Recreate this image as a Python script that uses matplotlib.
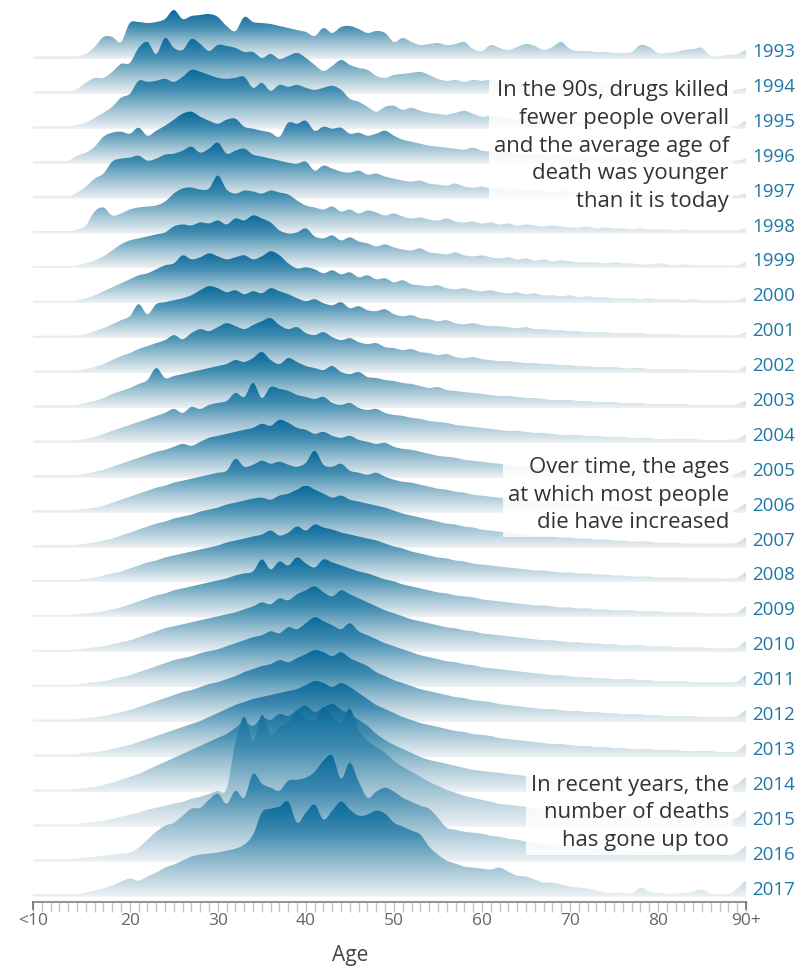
import numpy as np
import matplotlib.pyplot as plt
from matplotlib.colors import LinearSegmentedColormap
from matplotlib.patches import Polygon

plt.rcParams['font.family'] = ['Open Sans', 'DejaVu Sans']

# age 9 stands for "<10" and age 90 for "90+"
ages = np.arange(9, 91)
years = list(range(1993, 2018))
tick_ages = [9, 20, 30, 40, 50, 60, 70, 80, 90]
tick_labels = ['<10', '20', '30', '40', '50', '60', '70', '80', '90+']

# deaths by single year of age, one list per year (ages 9..90)
deaths_1993 = [2, 1, 0, 1, 2, 3, 5, 12, 22, 22,
               17, 36, 37, 36, 37, 40, 49, 40, 43, 44,
               45, 42, 33, 28, 42, 37, 36, 35, 33, 31,
               29, 27, 23, 31, 26, 32, 33, 30, 26, 28,
               26, 17, 21, 17, 14, 15, 16, 14, 15, 17,
               10, 8, 14, 11, 9, 12, 15, 13, 9, 12,
               17, 10, 8, 8, 7, 7, 6, 6, 7, 14,
               12, 6, 6, 7, 9, 10, 11, 3, 3, 4,
               5, 9]
deaths_1994 = [2, 1, 1, 1, 2, 5, 11, 16, 16, 22,
               30, 31, 46, 52, 40, 56, 46, 44, 55, 50,
               43, 49, 48, 46, 42, 42, 36, 40, 35, 38,
               41, 36, 29, 23, 28, 34, 29, 26, 24, 18,
               16, 19, 20, 21, 22, 19, 15, 13, 14, 12,
               14, 13, 14, 11, 10, 12, 10, 9, 8, 10,
               9, 8, 7, 8, 9, 7, 6, 7, 6, 5,
               6, 7, 5, 5, 6, 4, 5, 4, 4, 3,
               4, 6]
deaths_1995 = [2, 1, 1, 1, 2, 4, 6, 11, 16, 22,
               31, 35, 48, 47, 48, 50, 47, 52, 59, 57,
               54, 51, 50, 51, 52, 41, 46, 38, 44, 42,
               44, 41, 39, 41, 43, 39, 30, 27, 22, 17,
               22, 23, 19, 21, 18, 16, 15, 14, 16, 18,
               15, 12, 13, 12, 11, 10, 11, 9, 10, 8,
               9, 8, 7, 7, 8, 6, 6, 5, 6, 5,
               5, 4, 5, 4, 4, 5, 4, 3, 3, 3,
               3, 8]
deaths_1996 = [2, 1, 1, 2, 3, 8, 11, 17, 27, 31,
               32, 30, 36, 28, 33, 38, 44, 50, 52, 47,
               43, 40, 44, 45, 37, 35, 33, 31, 27, 41,
               40, 43, 33, 37, 35, 36, 30, 31, 28, 30,
               33, 28, 24, 22, 20, 18, 17, 16, 15, 14,
               16, 13, 12, 11, 12, 10, 9, 10, 8, 9,
               8, 7, 7, 6, 7, 6, 6, 5, 6, 5,
               5, 4, 5, 4, 4, 4, 3, 3, 3, 3,
               3, 5]
deaths_1997 = [2, 1, 1, 1, 2, 6, 12, 20, 25, 37,
               40, 41, 43, 38, 40, 44, 45, 48, 52, 46,
               50, 56, 45, 48, 50, 44, 42, 40, 38, 36,
               35, 37, 28, 33, 30, 27, 26, 28, 24, 25,
               22, 20, 18, 17, 18, 15, 14, 13, 15, 12,
               11, 12, 10, 11, 9, 10, 8, 9, 8, 7,
               8, 7, 6, 6, 7, 5, 6, 5, 5, 4,
               5, 4, 4, 4, 3, 4, 3, 3, 3, 3,
               3, 5]
deaths_1998 = [2, 1, 1, 1, 2, 4, 8, 22, 26, 18,
               20, 24, 26, 27, 28, 32, 40, 45, 46, 44,
               45, 58, 44, 40, 43, 42, 40, 43, 41, 39,
               33, 28, 26, 24, 27, 22, 24, 20, 23, 21,
               18, 20, 17, 15, 16, 14, 13, 15, 12, 11,
               12, 10, 11, 9, 10, 8, 9, 8, 7, 8,
               7, 6, 6, 7, 5, 6, 5, 5, 4, 5,
               4, 4, 4, 3, 4, 3, 3, 3, 3, 3,
               3, 5]
deaths_1999 = [2, 1, 1, 1, 2, 3, 5, 8, 12, 18,
               24, 28, 30, 32, 34, 36, 42, 44, 43, 46,
               45, 48, 44, 50, 48, 53, 50, 46, 38, 35,
               36, 40, 32, 30, 33, 28, 31, 27, 25, 22,
               24, 21, 19, 18, 20, 16, 15, 14, 16, 13,
               12, 13, 11, 10, 11, 9, 10, 8, 9, 7,
               8, 7, 6, 6, 6, 5, 6, 5, 5, 4,
               4, 5, 4, 3, 4, 3, 3, 3, 3, 3,
               3, 6]
deaths_2000 = [2, 1, 1, 1, 2, 3, 5, 8, 12, 16,
               20, 24, 28, 30, 34, 38, 40, 48, 44, 46,
               50, 47, 44, 46, 48, 44, 47, 52, 48, 40,
               35, 36, 34, 30, 33, 29, 31, 26, 28, 24,
               25, 21, 23, 19, 18, 17, 18, 15, 14, 15,
               13, 12, 13, 11, 10, 11, 9, 10, 8, 8,
               7, 8, 6, 7, 6, 6, 5, 5, 5, 4,
               5, 4, 4, 4, 3, 4, 3, 3, 3, 3,
               3, 6]
deaths_2001 = [2, 1, 1, 1, 2, 3, 4, 7, 10, 14,
               18, 22, 34, 24, 34, 36, 38, 40, 43, 48,
               52, 50, 46, 48, 44, 47, 45, 50, 47, 44,
               40, 37, 39, 35, 33, 36, 30, 32, 28, 27,
               29, 24, 22, 23, 20, 19, 17, 18, 15, 14,
               15, 13, 12, 12, 11, 10, 11, 9, 9, 8,
               8, 7, 7, 6, 6, 6, 5, 5, 5, 5,
               4, 4, 4, 4, 3, 3, 3, 3, 3, 3,
               3, 6]
deaths_2002 = [2, 1, 1, 1, 2, 3, 4, 6, 9, 13,
               17, 20, 24, 27, 30, 33, 38, 34, 40, 44,
               42, 46, 50, 47, 44, 48, 52, 55, 48, 44,
               46, 40, 38, 41, 36, 33, 35, 31, 29, 30,
               26, 25, 23, 24, 21, 20, 18, 19, 16, 15,
               16, 14, 13, 12, 12, 11, 10, 10, 9, 9,
               8, 8, 7, 7, 6, 6, 6, 5, 5, 5,
               4, 4, 4, 4, 4, 3, 3, 3, 3, 3,
               3, 7]
deaths_2003 = [2, 1, 1, 1, 2, 3, 5, 7, 10, 14,
               17, 20, 24, 28, 40, 30, 32, 34, 36, 38,
               40, 42, 44, 48, 46, 50, 56, 48, 44, 50,
               46, 42, 40, 38, 42, 36, 34, 36, 31, 30,
               28, 27, 25, 24, 22, 20, 21, 18, 17, 16,
               15, 14, 13, 12, 12, 11, 10, 10, 9, 8,
               8, 8, 7, 7, 6, 6, 6, 5, 5, 5,
               4, 4, 4, 4, 4, 3, 3, 3, 3, 3,
               4, 7]
deaths_2004 = [2, 1, 1, 1, 2, 3, 4, 6, 9, 12,
               15, 18, 21, 24, 27, 30, 34, 30, 36, 34,
               38, 40, 42, 50, 46, 60, 45, 56, 54, 52,
               48, 46, 44, 46, 40, 38, 40, 35, 33, 34,
               30, 28, 27, 25, 24, 22, 21, 20, 18, 17,
               16, 15, 14, 13, 12, 12, 11, 10, 10, 9,
               8, 8, 8, 7, 7, 6, 6, 6, 5, 5,
               5, 4, 4, 4, 4, 4, 3, 3, 3, 3,
               4, 8]
deaths_2005 = [2, 1, 1, 1, 2, 3, 4, 6, 8, 11,
               14, 17, 20, 23, 26, 28, 31, 34, 32, 36,
               40, 42, 44, 46, 48, 50, 54, 52, 58, 55,
               50, 48, 44, 46, 42, 40, 42, 38, 36, 34,
               35, 31, 29, 28, 26, 24, 22, 21, 20, 18,
               17, 16, 15, 14, 13, 12, 12, 11, 10, 10,
               9, 8, 8, 8, 7, 7, 6, 6, 6, 5,
               5, 5, 4, 4, 4, 4, 4, 3, 3, 3,
               4, 8]
deaths_2006 = [2, 1, 1, 1, 2, 3, 4, 5, 7, 10,
               13, 16, 19, 22, 25, 27, 30, 32, 34, 36,
               38, 40, 42, 54, 46, 48, 52, 49, 51, 48,
               46, 50, 62, 48, 46, 49, 42, 40, 38, 40,
               36, 33, 31, 30, 28, 26, 24, 23, 21, 20,
               18, 17, 16, 15, 14, 13, 12, 12, 11, 10,
               10, 9, 9, 8, 8, 7, 7, 6, 6, 6,
               5, 5, 5, 4, 4, 4, 4, 4, 3, 3,
               4, 9]
deaths_2007 = [2, 1, 1, 1, 2, 3, 4, 5, 7, 9,
               12, 15, 18, 21, 24, 26, 29, 31, 33, 36,
               38, 40, 43, 45, 47, 49, 50, 48, 52, 54,
               58, 62, 58, 54, 50, 52, 48, 46, 44, 42,
               40, 37, 34, 32, 30, 28, 26, 24, 23, 21,
               20, 18, 17, 16, 15, 14, 13, 12, 12, 11,
               10, 10, 9, 9, 8, 8, 7, 7, 6, 6,
               6, 5, 5, 5, 4, 4, 4, 4, 4, 4,
               5, 10]
deaths_2008 = [2, 1, 1, 1, 2, 3, 4, 5, 7, 9,
               11, 14, 17, 20, 22, 25, 27, 29, 31, 33,
               35, 37, 40, 42, 44, 46, 48, 52, 47, 50,
               56, 52, 58, 55, 53, 50, 48, 46, 44, 42,
               39, 36, 34, 31, 29, 27, 25, 24, 22, 21,
               19, 18, 17, 16, 15, 14, 13, 12, 12, 11,
               10, 10, 9, 9, 8, 8, 7, 7, 6, 6,
               6, 5, 5, 5, 5, 4, 4, 4, 4, 4,
               5, 10]
deaths_2009 = [2, 1, 1, 1, 2, 3, 4, 5, 6, 8,
               10, 13, 16, 19, 22, 24, 27, 29, 31, 33,
               35, 37, 39, 42, 44, 46, 58, 48, 56, 52,
               60, 54, 50, 58, 55, 52, 49, 46, 44, 41,
               38, 36, 33, 31, 29, 27, 25, 24, 22, 21,
               20, 18, 17, 16, 15, 14, 13, 12, 12, 11,
               10, 10, 9, 9, 8, 8, 7, 7, 7, 6,
               6, 6, 5, 5, 5, 5, 4, 4, 4, 4,
               5, 11]
deaths_2010 = [2, 1, 1, 1, 2, 3, 4, 5, 6, 8,
               10, 12, 15, 18, 21, 24, 26, 28, 30, 32,
               34, 36, 38, 40, 43, 46, 50, 48, 54, 52,
               58, 62, 66, 60, 56, 62, 58, 54, 50, 46,
               42, 39, 36, 33, 31, 29, 27, 25, 24, 22,
               21, 19, 18, 17, 16, 15, 14, 13, 12, 12,
               11, 10, 10, 9, 9, 8, 8, 7, 7, 7,
               6, 6, 6, 5, 5, 5, 5, 4, 4, 4,
               5, 11]
deaths_2011 = [2, 1, 1, 1, 2, 3, 4, 5, 6, 8,
               10, 12, 15, 18, 21, 24, 27, 29, 31, 34,
               36, 38, 41, 44, 47, 50, 52, 56, 54, 60,
               58, 64, 70, 66, 62, 58, 64, 56, 52, 48,
               44, 41, 38, 35, 32, 30, 28, 26, 25, 23,
               22, 20, 19, 18, 17, 16, 15, 14, 13, 12,
               12, 11, 10, 10, 9, 9, 8, 8, 8, 7,
               7, 6, 6, 6, 6, 5, 5, 5, 5, 5,
               6, 12]
deaths_2012 = [2, 1, 1, 1, 2, 3, 4, 5, 6, 8,
               10, 12, 15, 18, 21, 24, 27, 30, 32, 35,
               38, 40, 43, 46, 50, 53, 56, 58, 62, 60,
               64, 68, 72, 70, 66, 70, 64, 60, 56, 50,
               46, 42, 39, 36, 33, 31, 29, 27, 25, 24,
               22, 21, 20, 18, 17, 16, 15, 14, 13, 13,
               12, 11, 11, 10, 10, 9, 9, 8, 8, 8,
               7, 7, 6, 6, 6, 6, 5, 5, 5, 5,
               6, 12]
deaths_2013 = [2, 1, 1, 1, 2, 3, 4, 5, 6, 8,
               10, 12, 15, 18, 21, 24, 27, 30, 33, 36,
               40, 44, 48, 52, 55, 58, 60, 62, 64, 66,
               68, 72, 76, 74, 70, 74, 70, 64, 58, 52,
               48, 44, 40, 37, 34, 32, 30, 28, 26, 25,
               23, 22, 21, 19, 18, 17, 16, 15, 14, 13,
               13, 12, 11, 11, 10, 10, 9, 9, 8, 8,
               8, 7, 7, 7, 6, 6, 6, 6, 5, 5,
               6, 13]
deaths_2014 = [2, 1, 1, 1, 2, 3, 4, 5, 7, 9,
               12, 15, 18, 22, 26, 30, 34, 38, 42, 46,
               50, 54, 58, 64, 70, 66, 74, 72, 78, 76,
               82, 86, 80, 84, 88, 82, 78, 72, 66, 58,
               52, 47, 43, 39, 35, 32, 30, 28, 26, 24,
               22, 21, 20, 19, 18, 17, 16, 15, 14, 14,
               13, 12, 12, 11, 11, 10, 10, 9, 9, 9,
               8, 8, 8, 7, 7, 7, 7, 6, 6, 6,
               8, 15]
deaths_2015 = [2, 1, 1, 1, 2, 3, 4, 5, 6, 8,
               10, 12, 14, 17, 19, 21, 23, 25, 28, 30,
               33, 36, 38, 84, 110, 86, 112, 92, 100, 104,
               114, 108, 106, 120, 110, 104, 118, 96, 86, 80,
               74, 66, 60, 55, 50, 45, 41, 37, 34, 31,
               29, 27, 25, 23, 22, 21, 20, 19, 18, 17,
               16, 15, 14, 14, 13, 12, 12, 11, 11, 10,
               10, 10, 9, 9, 9, 8, 8, 8, 8, 7,
               9, 16]
deaths_2016 = [2, 1, 1, 1, 2, 3, 4, 5, 6, 7,
               8, 9, 14, 22, 30, 36, 39, 46, 53, 54,
               62, 68, 58, 71, 64, 88, 78, 74, 71, 81,
               82, 84, 90, 101, 106, 83, 99, 80, 64, 70,
               74, 70, 64, 60, 56, 53, 44, 34, 32, 30,
               29, 28, 26, 25, 23, 22, 20, 19, 18, 17,
               16, 15, 14, 14, 13, 12, 12, 11, 11, 10,
               10, 10, 9, 9, 9, 8, 8, 8, 8, 7,
               9, 16]
deaths_2017 = [2, 1, 1, 1, 1, 2, 4, 6, 8, 11,
               15, 18, 16, 20, 24, 29, 32, 36, 40, 42,
               43, 44, 46, 48, 52, 62, 84, 88, 90, 95,
               74, 84, 92, 77, 86, 95, 87, 81, 82, 86,
               83, 74, 70, 66, 62, 50, 42, 36, 33, 30,
               29, 28, 27, 29, 25, 21, 20, 17, 14, 14,
               12, 10, 9, 8, 6, 4, 4, 4, 3, 9,
               5, 4, 3, 3, 4, 5, 7, 3, 2, 2,
               8, 16]

deaths = [deaths_1993, deaths_1994, deaths_1995, deaths_1996, deaths_1997,
          deaths_1998, deaths_1999, deaths_2000, deaths_2001, deaths_2002,
          deaths_2003, deaths_2004, deaths_2005, deaths_2006, deaths_2007,
          deaths_2008, deaths_2009, deaths_2010, deaths_2011, deaths_2012,
          deaths_2013, deaths_2014, deaths_2015, deaths_2016, deaths_2017]

# annotation text and the pixel row (from the top) its block is centred on
notes = [
    ("In the 90s, drugs killed\nfewer people overall\nand the average age of\n"
     "death was younger\nthan it is today", 146),
    ("Over time, the ages\nat which most people\ndie have increased", 495),
    ("In recent years, the\nnumber of deaths\nhas gone up too", 813),
]

ROW_PX = 34.9          # distance between baselines in pixels
TOP_PX = 59            # baseline of the first year, from the top
scale = 1 / ROW_PX     # one death = one pixel of ridge height
n = len(years)

cmap = LinearSegmentedColormap.from_list(
    'ridge', ['#eef2f4', '#9cc1d2', '#3f8bb0', '#08689a'])
grad = np.linspace(0, 1, 256).reshape(-1, 1)


def catmull_rom(x, y, steps=10):
    x = np.asarray(x, float)
    y = np.asarray(y, float)
    yp = np.concatenate([[y[0]], y, [y[-1]]])
    t = np.linspace(0, 1, steps, endpoint=False)[:, None]
    p0, p1, p2, p3 = yp[:-3], yp[1:-2], yp[2:-1], yp[3:]
    ys = 0.5 * (2 * p1 + (p2 - p0) * t + (2 * p0 - 5 * p1 + 4 * p2 - p3) * t ** 2
                + (3 * p1 - p0 - 3 * p2 + p3) * t ** 3)
    xs = x[:-1] + (x[1:] - x[:-1]) * t
    xs = np.append(xs.T.ravel(), x[-1])
    ys = np.append(ys.T.ravel(), y[-1])
    return xs, ys


def px_to_row(y_px):
    return n - 1 - (y_px - TOP_PX) * scale


fig = plt.figure(figsize=(7.98, 9.67), dpi=100)
ax = fig.add_axes([33 / 798, (967 - 902) / 967, 713 / 798, 902 / 967])

for i, (year, vals) in enumerate(zip(years, deaths)):
    base = n - 1 - i
    xs, ys = catmull_rom(ages, vals)
    ys = np.maximum(ys, 2.5) * scale
    verts = [(xs[0], base)] + list(zip(xs, base + ys)) + [(xs[-1], base)]
    poly = Polygon(verts, closed=True, transform=ax.transData,
                   facecolor='none', edgecolor='none')
    ax.add_patch(poly)
    im = ax.imshow(grad, cmap=cmap, origin='lower', aspect='auto',
                   extent=(ages[0], ages[-1], base, base + ys.max()),
                   interpolation='bilinear', zorder=i + 1)
    im.set_clip_path(poly)
    ax.text(1.0084, base + 7 * scale, str(year), transform=ax.get_yaxis_transform(),
            ha='left', va='center', fontsize=13.5, color='#1f78a4', clip_on=False)

for text, y_px in notes:
    ax.text(0.976, px_to_row(y_px), text, transform=ax.get_yaxis_transform(),
            ha='right', va='center', multialignment='right', fontsize=15.9,
            color='#333333', linespacing=1.41, zorder=100,
            bbox=dict(boxstyle='square,pad=0.2', facecolor='white', alpha=0.85,
                      edgecolor='none'))

ybot = px_to_row(902)
ax.set_xlim(ages[0], ages[-1])
ax.set_ylim(ybot, px_to_row(0))

for side in ['top', 'right', 'left']:
    ax.spines[side].set_visible(False)
ax.spines['bottom'].set_color('#8a8a8a')
ax.spines['bottom'].set_linewidth(1.3)
ax.set_yticks([])
ax.set_xticks(ages, minor=True)
ax.set_xticks(tick_ages)
ax.set_xticklabels(tick_labels)
ax.tick_params(axis='x', which='both', length=7, width=1, color='#c4c4c4',
               labelsize=12.5, labelcolor='#666666', pad=1)
for a in (ages[0], ages[-1]):
    ax.plot([a, a], [ybot, ybot - 7 * scale], color='#777777', lw=1.3, clip_on=False,
            zorder=200)

fig.text(350 / 798, 1 - 955 / 967, 'Age', ha='center', va='center', fontsize=15,
         color='#444444')

fig.savefig('out.png', dpi=100)
